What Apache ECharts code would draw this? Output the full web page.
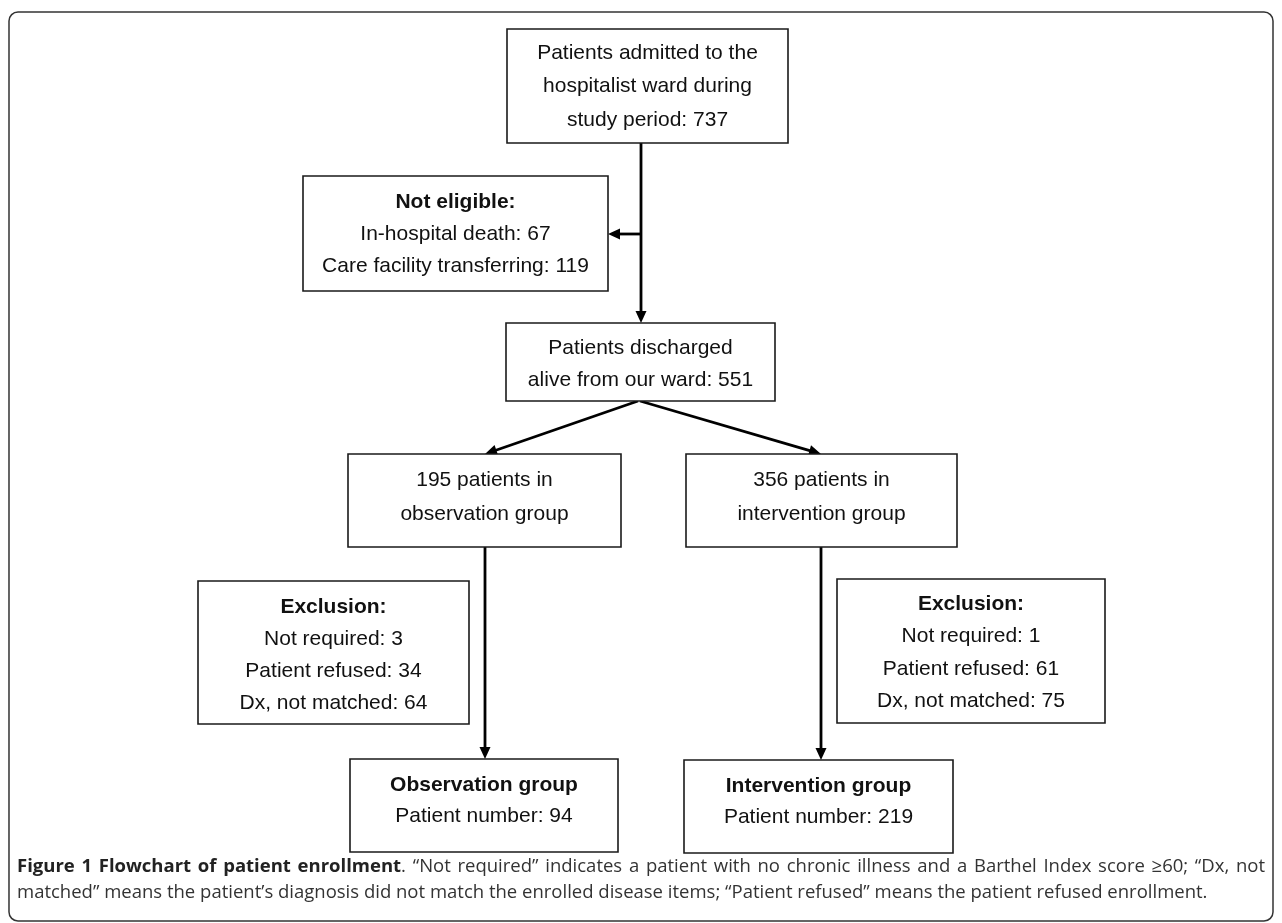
<!DOCTYPE html>
<html><head><meta charset="utf-8">
<script src="https://cdn.jsdelivr.net/npm/echarts@6/dist/echarts.min.js"></script>
<style>html,body{margin:0;padding:0;background:#fff}#c{width:1282px;height:923px}</style>
</head><body><div id="c"></div>
<script>
// ---------------- data ----------------
const admittedCount = 737;
const notEligibleLabels = ['In-hospital death', 'Care facility transferring'];
const notEligibleCounts = [67, 119];
const dischargedCount = 551;
const groupLabels = ['observation group', 'intervention group'];
const groupCounts = [195, 356];
const exclusionLabels = ['Not required', 'Patient refused', 'Dx, not matched'];
const observationExclusion = [3, 34, 64];
const interventionExclusion = [1, 61, 75];
const finalGroupLabels = ['Observation group', 'Intervention group'];
const finalGroupCounts = [94, 219];
const captionBold = 'Figure 1 Flowchart of patient enrollment';
const captionRest1 = '. \u201CNot required\u201D indicates a patient with no chronic illness and a Barthel Index score \u226560; \u201CDx, not';
const captionLine2 = 'matched\u201D means the patient\u2019s diagnosis did not match the enrolled disease items; \u201CPatient refused\u201D means the patient refused enrollment.';

// ---------------- node texts ----------------
const nodes = [
  {id: 'admitted', lines: ['Patients admitted to the', 'hospitalist ward during', 'study period: ' + admittedCount]},
  {id: 'notEligible', title: 'Not eligible:', lines: notEligibleLabels.map((l, i) => l + ': ' + notEligibleCounts[i])},
  {id: 'discharged', lines: ['Patients discharged', 'alive from our ward: ' + dischargedCount]},
  {id: 'obs', lines: [groupCounts[0] + ' patients in', groupLabels[0]]},
  {id: 'int', lines: [groupCounts[1] + ' patients in', groupLabels[1]]},
  {id: 'obsExcl', title: 'Exclusion:', lines: exclusionLabels.map((l, i) => l + ': ' + observationExclusion[i])},
  {id: 'intExcl', title: 'Exclusion:', lines: exclusionLabels.map((l, i) => l + ': ' + interventionExclusion[i])},
  {id: 'obsFinal', title: finalGroupLabels[0], lines: ['Patient number: ' + finalGroupCounts[0]]},
  {id: 'intFinal', title: finalGroupLabels[1], lines: ['Patient number: ' + finalGroupCounts[1]]}
];

// ---------------- layout (diagram units) ----------------
// x0, y0, x1, y1, text centre y, line height
const boxLayout = {
  admitted:    [507, 29, 788, 143, 86.5, 33.5],
  notEligible: [303, 176, 608, 291, 234, 32],
  discharged:  [506, 323, 775, 401, 364, 32],
  obs:         [348, 454, 621, 547, 497, 34],
  int:         [686, 454, 957, 547, 497, 34],
  obsExcl:     [198, 581, 469, 724, 655, 32],
  intExcl:     [837, 579, 1105, 723, 652.5, 32.5],
  obsFinal:    [350, 759, 618, 852, 800.5, 31],
  intFinal:    [684, 760, 953, 853, 802, 31]
};
const edgeLayout = [
  [641, 143, 641, 323],
  [641, 234, 608, 234],
  [638, 401, 485, 454],
  [640, 401, 821, 454],
  [485, 547, 485, 759],
  [821, 547, 821, 760]
];

const FONT = '"Liberation Sans", Arial, sans-serif';
const BOX_FS = 21;

const boxData = nodes.map(n => {
  const L = boxLayout[n.id];
  return {value: [L[0], L[1], L[2], L[3], L[4]], lineH: L[5], node: n};
});

function renderBox(params, api) {
  const item = boxData[params.dataIndex];
  const p0 = api.coord([api.value(0), api.value(1)]);
  const p1 = api.coord([api.value(2), api.value(3)]);
  const cx = (p0[0] + p1[0]) / 2;
  const ty = api.coord([0, api.value(4)])[1];
  const n = item.node;
  let parts = [];
  if (n.title) parts.push('{b|' + n.title + '}');
  n.lines.forEach(l => parts.push('{n|' + l + '}'));
  return {
    type: 'group',
    children: [
      {type: 'rect', shape: {x: p0[0], y: p0[1], width: p1[0] - p0[0], height: p1[1] - p0[1]},
       style: {fill: '#fff', stroke: '#1a1a1a', lineWidth: 1.6}},
      {type: 'text', x: cx, y: ty,
       style: {text: parts.join('\n'), align: 'center', verticalAlign: 'middle', fill: '#111',
         rich: {
           b: {fontSize: BOX_FS, fontWeight: 'bold', fontFamily: FONT, lineHeight: item.lineH, fill: '#111'},
           n: {fontSize: BOX_FS, fontFamily: FONT, lineHeight: item.lineH, fill: '#111'}
         }}}
    ]
  };
}

function renderEdge(params, api) {
  const a = api.coord([api.value(0), api.value(1)]);
  const b = api.coord([api.value(2), api.value(3)]);
  const dx = b[0] - a[0], dy = b[1] - a[1];
  const len = Math.sqrt(dx * dx + dy * dy);
  const ux = dx / len, uy = dy / len;
  const hl = 12, hw = 5.5;
  const base = [b[0] - ux * hl, b[1] - uy * hl];
  const px = -uy, py = ux;
  return {
    type: 'group',
    children: [
      {type: 'line', shape: {x1: a[0], y1: a[1], x2: base[0] + ux * 2, y2: base[1] + uy * 2},
       style: {stroke: '#000', lineWidth: 2.8}},
      {type: 'polygon', shape: {points: [[b[0], b[1]], [base[0] + px * hw, base[1] + py * hw], [base[0] - px * hw, base[1] - py * hw]]},
       style: {fill: '#000'}}
    ]
  };
}

// ---------------- caption (justified first line) ----------------
const CAP_FONT = '"Open Sans", sans-serif';
const CAP_SIZE = 18.5;
const CAP_X = 17, CAP_W = 1248;
const mctx = document.createElement('canvas').getContext('2d');
function tw(t, bold) { mctx.font = (bold ? 'bold ' : '') + CAP_SIZE + 'px ' + CAP_FONT; return mctx.measureText(t).width; }
function buildJustified() {
  const segs = [];
  captionBold.split(' ').forEach((w, i, arr) => { segs.push({t: w, b: true}); if (i < arr.length - 1) segs.push({sp: true, b: true}); });
  const rest = captionRest1.split(' ');
  rest.forEach((w, i) => { if (i > 0) segs.push({sp: true, b: false}); segs.push({t: w, b: false}); });
  let natural = 0, nsp = 0;
  segs.forEach(s => { if (s.sp) { natural += tw(' ', s.b); nsp++; } else natural += tw(s.t, s.b); });
  const extra = Math.max(0, (CAP_W - natural) / nsp);
  const spB = tw(' ', true) + extra, spN = tw(' ', false) + extra;
  const text = segs.map(s => s.sp ? (s.b ? '{sb| }' : '{sn| }') : ((s.b ? '{b|' : '{n|') + s.t + '}')).join('');
  return {text, spB, spN};
}
const just = buildJustified();

const chart = echarts.init(document.getElementById('c'), null, {renderer: 'canvas'});
chart.setOption({
  animation: false,
  backgroundColor: '#fff',
  grid: {left: 0, right: 0, top: 0, bottom: 0},
  xAxis: {type: 'value', min: 0, max: 1282, show: false},
  yAxis: {type: 'value', min: 0, max: 923, inverse: true, show: false},
  graphic: [
    {type: 'rect', shape: {x: 9, y: 12, width: 1264, height: 909, r: 9},
     style: {fill: 'none', stroke: '#333', lineWidth: 1.5}, z: 0},
    {type: 'text', x: CAP_X, y: 867,
     style: {text: just.text, verticalAlign: 'middle',
       rich: {
         b: {fontFamily: CAP_FONT, fontSize: CAP_SIZE, fontWeight: 'bold', fill: '#222'},
         n: {fontFamily: CAP_FONT, fontSize: CAP_SIZE, fill: '#333'},
         sb: {fontFamily: CAP_FONT, fontSize: CAP_SIZE, fontWeight: 'bold', width: just.spB},
         sn: {fontFamily: CAP_FONT, fontSize: CAP_SIZE, width: just.spN}
       }}, z: 10},
    {type: 'text', x: CAP_X, y: 893,
     style: {text: captionLine2, verticalAlign: 'middle', fontFamily: CAP_FONT, fontSize: CAP_SIZE, fill: '#333'}, z: 10}
  ],
  series: [
    {type: 'custom', coordinateSystem: 'cartesian2d', renderItem: renderEdge, silent: true,
     data: edgeLayout, z: 2},
    {type: 'custom', coordinateSystem: 'cartesian2d', renderItem: renderBox, silent: true,
     data: boxData.map(d => d.value), z: 3}
  ]
});
</script></body></html>
